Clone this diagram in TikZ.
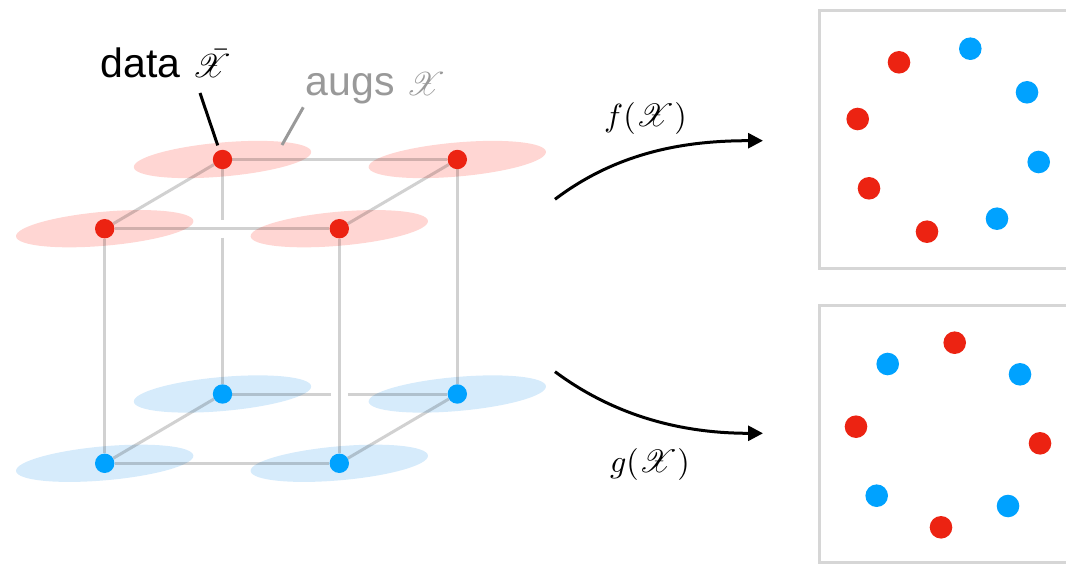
\documentclass[tikz,border=0pt]{standalone}
\usepackage{amsmath,amssymb,mathrsfs}
\usepackage{fontspec}
\newfontfamily\lblfont{Liberation Sans}
\usetikzlibrary{arrows.meta, calc, backgrounds}
\definecolor{datared}{HTML}{EC2312}
\definecolor{augblue}{HTML}{00A2FF}
\definecolor{redhalo}{HTML}{FFD6D3}
\definecolor{bluehalo}{HTML}{D6EBFB}
\definecolor{panelgray}{HTML}{D6D6D6}
\definecolor{augsgray}{HTML}{999999}
\newcommand{\augset}{{\footnotesize$\mathscr{X}$}}
\newcommand{\dataset}{{\footnotesize$\bar{\mathscr{X}}$}}

\begin{document}
\begin{tikzpicture}[x=1pt, y=-1pt,
    dot/.style={circle, fill=#1, inner sep=0pt, minimum size=19.4pt},
    pdot/.style={circle, fill=#1, inner sep=0pt, minimum size=22.6pt},
    edge/.style={draw=black, opacity=0.18, line width=3pt},
    ptr/.style={line width=3pt},
    panel/.style={draw=panelgray, line width=3pt},
    arr/.style={-{Triangle[length=15pt, width=15pt]}, line width=3pt},
    lbl/.style={font=\lblfont, inner sep=0pt, scale=4.1},
    mlbl/.style={inner sep=0pt, scale=3.2}
  ]
  \useasboundingbox (0,0) rectangle (1066,564);
  \clip (0,0) rectangle (1066,564);

  % Cube: data on top
  \node[dot=datared] (rbl) at (222.5,159.5) {};
  \node[dot=datared] (rbr) at (457.3,159.5) {};
  \node[dot=datared] (rfl) at (104.7,228.7) {};
  \node[dot=datared] (rfr) at (339.3,228.7) {};
  % augs below
  \node[dot=augblue] (bbl) at (222.5,394) {};
  \node[dot=augblue] (bbr) at (457.3,394) {};
  \node[dot=augblue] (bfl) at (104.7,463.3) {};
  \node[dot=augblue] (bfr) at (339.3,463.3) {};
  \coordinate (g1) at (rbl |- rfl);
  \coordinate (g2) at (bfr |- bbl);

  \begin{scope}[on background layer]
    \fill[redhalo, rotate around={5:(rbl)}] (rbl) ellipse (89pt and 17pt);
    \fill[redhalo, rotate around={5:(rbr)}] (rbr) ellipse (89pt and 17pt);
    \fill[redhalo, rotate around={5:(rfl)}] (rfl) ellipse (89pt and 17pt);
    \fill[redhalo, rotate around={5:(rfr)}] (rfr) ellipse (89pt and 17pt);
    \fill[bluehalo, rotate around={5:(bbl)}] (bbl) ellipse (89pt and 17pt);
    \fill[bluehalo, rotate around={5:(bbr)}] (bbr) ellipse (89pt and 17pt);
    \fill[bluehalo, rotate around={5:(bfl)}] (bfl) ellipse (89pt and 17pt);
    \fill[bluehalo, rotate around={5:(bfr)}] (bfr) ellipse (89pt and 17pt);

    \draw[edge] (rbl) -- (rbr);
    \draw[edge] (rfl) -- (rfr);
    \draw[edge] (rbl) -- (rfl);
    \draw[edge] (rbr) -- (rfr);
    \draw[edge] (rbl) -- ([yshift=9pt]g1);
    \draw[edge] ([yshift=-9pt]g1) -- (bbl);
    \draw[edge] (rbr) -- (bbr);
    \draw[edge] (rfl) -- (bfl);
    \draw[edge] (rfr) -- (bfr);
    \draw[edge] (bbl) -- ([xshift=-8.5pt]g2);
    \draw[edge] ([xshift=8.5pt]g2) -- (bbr);
    \draw[edge] (bfl) -- (bfr);
    \draw[edge] (bbl) -- (bfl);
    \draw[edge] (bbr) -- (bfr);
  \end{scope}

  % Labels
  \node[lbl, anchor=base west] (data) at (100,77.7) {data \dataset};
  \node[lbl, anchor=base west, text=augsgray] (augs) at (305,96) {augs \augset};
  \coordinate (dtip) at (200,93);
  \coordinate (atip) at (303.3,107.3);
  \coordinate (aend) at (282,145);
  \draw[ptr, shorten >=5pt] (dtip) -- (rbl);
  \draw[ptr, augsgray] (atip) -- (aend);

  % Maps
  \coordinate (fs) at (555,199.3);
  \coordinate (fe) at (763,140.7);
  \coordinate (gs) at (555,371.7);
  \coordinate (ge) at (763,433.3);
  \draw[arr] (fs) .. controls (620,150) and (690,140.7) .. (fe);
  \draw[arr] (gs) .. controls (620,420) and (690,433.3) .. (ge);
  \node[mlbl] (flbl) at (645.5,119) {$f(\mathscr{X})$};
  \node[mlbl] (glbl) at (650,464) {$g(\mathscr{X})$};

  % Embedding f
  \draw[panel] (819,11) rectangle (1090,268.3);
  \node[pdot=datared] (t1) at (899,62.3) {};
  \node[pdot=datared] (t2) at (857.7,119) {};
  \node[pdot=datared] (t3) at (869,188.3) {};
  \node[pdot=datared] (t4) at (927,231.7) {};
  \node[pdot=augblue] (t5) at (970.3,48.7) {};
  \node[pdot=augblue] (t6) at (1027,92.3) {};
  \node[pdot=augblue] (t7) at (1038.7,162) {};
  \node[pdot=augblue] (t8) at (997,218.7) {};

  % Embedding g
  \draw[panel] (819,305) rectangle (1090,562.5);
  \node[pdot=augblue] (b1) at (887.7,364) {};
  \node[pdot=augblue] (b2) at (1020,374.3) {};
  \node[pdot=augblue] (b3) at (876.7,495.7) {};
  \node[pdot=augblue] (b4) at (1008,506) {};
  \node[pdot=datared] (b5) at (954.7,342.7) {};
  \node[pdot=datared] (b6) at (856,426.7) {};
  \node[pdot=datared] (b7) at (1040,443.3) {};
  \node[pdot=datared] (b8) at (941,527.3) {};
\end{tikzpicture}
\end{document}
